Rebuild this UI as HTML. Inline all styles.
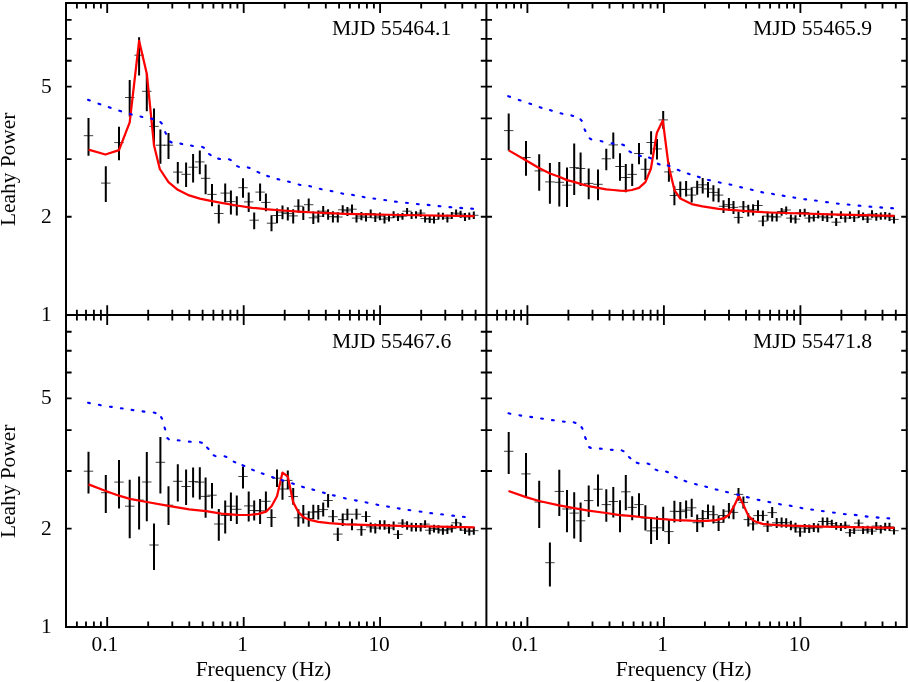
<!DOCTYPE html>
<html><head><meta charset="utf-8"><title>Leahy Power spectra</title>
<style>
html,body{margin:0;padding:0;background:#fff;}
body{width:909px;height:682px;overflow:hidden;font-family:"Liberation Serif",serif;}
svg{display:block;}
</style></head><body>
<svg width="909" height="682" viewBox="0 0 909 682">
<rect width="909" height="682" fill="#fff"/>
<path d="M76.9 3v5.4M76.9 309.8v10.8M76.9 627v-5.4M86 3v5.4M86 309.8v10.8M86 627v-5.4M93.9 3v5.4M93.9 309.8v10.8M93.9 627v-5.4M100.9 3v5.4M100.9 309.8v10.8M100.9 627v-5.4M107.2 3v9.9M107.2 305.2v19.8M107.2 627v-9.9M148.2 3v5.4M148.2 309.8v10.8M148.2 627v-5.4M172.3 3v5.4M172.3 309.8v10.8M172.3 627v-5.4M189.3 3v5.4M189.3 309.8v10.8M189.3 627v-5.4M202.6 3v5.4M202.6 309.8v10.8M202.6 627v-5.4M213.4 3v5.4M213.4 309.8v10.8M213.4 627v-5.4M222.5 3v5.4M222.5 309.8v10.8M222.5 627v-5.4M230.4 3v5.4M230.4 309.8v10.8M230.4 627v-5.4M237.4 3v5.4M237.4 309.8v10.8M237.4 627v-5.4M243.7 3v9.9M243.7 305.2v19.8M243.7 627v-9.9M284.7 3v5.4M284.7 309.8v10.8M284.7 627v-5.4M308.8 3v5.4M308.8 309.8v10.8M308.8 627v-5.4M325.8 3v5.4M325.8 309.8v10.8M325.8 627v-5.4M339.1 3v5.4M339.1 309.8v10.8M339.1 627v-5.4M349.9 3v5.4M349.9 309.8v10.8M349.9 627v-5.4M359 3v5.4M359 309.8v10.8M359 627v-5.4M366.9 3v5.4M366.9 309.8v10.8M366.9 627v-5.4M373.9 3v5.4M373.9 309.8v10.8M373.9 627v-5.4M380.1 3v9.9M380.1 305.2v19.8M380.1 627v-9.9M421.2 3v5.4M421.2 309.8v10.8M421.2 627v-5.4M445.3 3v5.4M445.3 309.8v10.8M445.3 627v-5.4M462.3 3v5.4M462.3 309.8v10.8M462.3 627v-5.4M475.6 3v5.4M475.6 309.8v10.8M475.6 627v-5.4M497.1 3v5.4M497.1 309.8v10.8M497.1 627v-5.4M506.2 3v5.4M506.2 309.8v10.8M506.2 627v-5.4M514.1 3v5.4M514.1 309.8v10.8M514.1 627v-5.4M521.1 3v5.4M521.1 309.8v10.8M521.1 627v-5.4M527.4 3v9.9M527.4 305.2v19.8M527.4 627v-9.9M568.4 3v5.4M568.4 309.8v10.8M568.4 627v-5.4M592.5 3v5.4M592.5 309.8v10.8M592.5 627v-5.4M609.5 3v5.4M609.5 309.8v10.8M609.5 627v-5.4M622.8 3v5.4M622.8 309.8v10.8M622.8 627v-5.4M633.6 3v5.4M633.6 309.8v10.8M633.6 627v-5.4M642.7 3v5.4M642.7 309.8v10.8M642.7 627v-5.4M650.6 3v5.4M650.6 309.8v10.8M650.6 627v-5.4M657.6 3v5.4M657.6 309.8v10.8M657.6 627v-5.4M663.9 3v9.9M663.9 305.2v19.8M663.9 627v-9.9M704.9 3v5.4M704.9 309.8v10.8M704.9 627v-5.4M729 3v5.4M729 309.8v10.8M729 627v-5.4M746 3v5.4M746 309.8v10.8M746 627v-5.4M759.3 3v5.4M759.3 309.8v10.8M759.3 627v-5.4M770.1 3v5.4M770.1 309.8v10.8M770.1 627v-5.4M779.2 3v5.4M779.2 309.8v10.8M779.2 627v-5.4M787.1 3v5.4M787.1 309.8v10.8M787.1 627v-5.4M794.1 3v5.4M794.1 309.8v10.8M794.1 627v-5.4M800.4 3v9.9M800.4 305.2v19.8M800.4 627v-9.9M841.4 3v5.4M841.4 309.8v10.8M841.4 627v-5.4M865.5 3v5.4M865.5 309.8v10.8M865.5 627v-5.4M882.5 3v5.4M882.5 309.8v10.8M882.5 627v-5.4M895.8 3v5.4M895.8 309.8v10.8M895.8 627v-5.4M66 216.7h5.6M480.8 216.7h11.2M906.8 216.7h-5.6M66 159.1h5.6M480.8 159.1h11.2M906.8 159.1h-5.6M66 118.3h5.6M480.8 118.3h11.2M906.8 118.3h-5.6M66 86.6h5.6M480.8 86.6h11.2M906.8 86.6h-5.6M66 60.7h5.6M480.8 60.7h11.2M906.8 60.7h-5.6M66 38.8h5.6M480.8 38.8h11.2M906.8 38.8h-5.6M66 19.8h5.6M480.8 19.8h11.2M906.8 19.8h-5.6M66 528.6h5.6M480.8 528.6h11.2M906.8 528.6h-5.6M66 471h5.6M480.8 471h11.2M906.8 471h-5.6M66 430.1h5.6M480.8 430.1h11.2M906.8 430.1h-5.6M66 398.4h5.6M480.8 398.4h11.2M906.8 398.4h-5.6M66 372.5h5.6M480.8 372.5h11.2M906.8 372.5h-5.6M66 350.7h5.6M480.8 350.7h11.2M906.8 350.7h-5.6M66 331.7h5.6M480.8 331.7h11.2M906.8 331.7h-5.6" stroke="#000" stroke-width="1.85" fill="none"/>
<path d="M66 3H906.8V627H66ZM486.4 3V627M66 315.1H906.8" stroke="#000" stroke-width="2.0" fill="none" stroke-linejoin="miter"/>
<path d="M88.5 117.9V155.8M105.8 166.3V201.9M119 126.7V160.2M129.7 79.9V116.5M139.1 37.3V75.5M146.8 73.7V111.2M154 108.6V145.2M160.4 129.4V163.7M168.5 132.9V158.9M177.8 161.9V183.6M186.1 162.5V187.1M193.1 154V182.5M199.8 150.5V174.3M205.6 164.6V194.2M212 183.9V206.2M218.8 204.5V223.6M225.2 183.5V202.4M230.9 190.4V214.4M236.8 196.2V215.5M243 178.2V197.8M248.7 192.4V211.9M254.2 212.4V229.3M260.1 183.4V201.1M265.9 193.6V211.3M271.5 215.2V231.3M277 208.5V223.2M282.5 205.5V219.3M287.8 207.3V220.4M293.2 209.3V223.6M298.4 199.3V212.4M303.3 206.5V220.1M308.7 198.5V211.2M313.3 211.6V223.9M318.3 210.5V222.4M323.2 205.9V217M328.1 209.3V219.8M332.9 211.2V222.4M337.8 212.3V222.4M342.7 205.2V214.5M347.4 207V216.1M352 204.6V213.1M356.5 214.5V222.4M361.4 212V220.2M366 213.1V221.4M370.7 209.5V217.8M375.3 213.6V221.9M379.9 212.5V220.2M384.5 215.3V223.5M389 214.5V221.4M393.6 211.2V218.1M398 213.6V221.1M402.5 213.1V219.7M407.1 207.9V215.3M411.6 212V219.1M416 211.2V218.6M420.7 209.5V216.9M425.1 215.3V222.4M429.7 215.8V223M434 216.1V223.5M438.5 212.5V219.4M442.9 212.8V219.7M447.4 214.8V222.4M451.8 212V219.1M456.1 209.5V216.9M460.6 210.8V217.8M465 213.1V221.1M469.3 212.5V219.7M473.8 211.5V219.1" stroke="#000" stroke-width="2.0" fill="none"/><path d="M83.8 135.7h9.4M101.1 183.1h9.4M114.3 142.6h9.4M125 97.5h9.4M134.4 55.2h9.4M142.1 91.3h9.4M149.3 126.4h9.4M155.7 145.2h9.4M163.8 145.2h9.4M173.1 172.1h9.4M181.4 174.3h9.4M188.4 167.2h9.4M195.1 161.9h9.4M200.9 178.3h9.4M207.3 194.4h9.4M214.1 213.5h9.4M220.5 193.1h9.4M226.2 201.6h9.4M232.1 205.8h9.4M238.3 187.7h9.4M244 201.9h9.4M249.5 220.2h9.4M255.4 192.1h9.4M261.2 202.4h9.4M266.8 223.2h9.4M272.3 215.5h9.4M277.8 212.1h9.4M283.1 213.6h9.4M288.5 215.9h9.4M293.7 206.2h9.4M298.6 212.4h9.4M304 204.7h9.4M308.6 217.8h9.4M313.6 216.2h9.4M318.5 211.2h9.4M323.4 213.9h9.4M328.2 216.7h9.4M333.1 217h9.4M338 209.8h9.4M342.7 210.8h9.4M347.3 209.2h9.4M351.8 218.1h9.4M356.7 216.1h9.4M361.3 217.3h9.4M366 213.6h9.4M370.6 217.8h9.4M375.2 216.1h9.4M379.8 219.1h9.4M384.3 217.8h9.4M388.9 214.5h9.4M393.3 216.9h9.4M397.8 216.1h9.4M402.4 211.2h9.4M406.9 215.3h9.4M411.3 214.5h9.4M416 213.1h9.4M420.4 218.6h9.4M425 219.1h9.4M429.3 219.4h9.4M433.8 215.8h9.4M438.2 216.1h9.4M442.7 218.1h9.4M447.1 215.3h9.4M451.4 213.1h9.4M455.9 214.1h9.4M460.3 216.9h9.4M464.6 216.1h9.4M469.1 215.3h9.4" stroke="#000" stroke-width="0.75" fill="none"/>
<polyline points="88.5,149.6 105.4,154.5 119,150.1 129.7,122.3 139.1,40.8 146.8,73.7 154,145.2 159.8,169 168.5,182.2 177.8,189.8 189.2,195.4 199.8,198.6 212,201.2 221.4,202.8 236.8,205.5 252.2,207.8 267.6,209.3 283,210.5 298.4,211.6 313.8,212.5 329.2,213.2 346,213.9 400,215 474.6,216.1" stroke="#ff0000" stroke-width="2.25" fill="none" stroke-linejoin="round" stroke-linecap="butt"/>
<path d="M88 99.8L89.8 100.4M98.5 103.7L100.3 104.3M108.8 107.2L110.6 107.8M119.3 110.7L121.1 111.3M129.9 114L131.7 114.4M140.5 116.5L142.3 116.9M151 118.5L152.8 119.1M160.4 122L161.8 123.4M165.2 132.1L166 133.7M170 141.5L171.6 142.5M180.4 143.6L182.2 144M191 145.5L192.8 145.9M202.1 146.9L203.9 147.7M209.1 154L210.7 155.2M218.2 158.6L220 159M229 159.3L230.8 160.1M237.1 166.1L238.9 166.9M247.8 167.4L249.6 168M257.5 171.9L259.3 172.7M267.2 175.9L269 176.5M277.5 179.1L279.3 179.5M288 181.5L289.8 181.9M298.6 184.5L300.4 184.9M309.2 186L311 186.4M319.8 188.8L321.6 189.2M330.6 190.9L332.4 191.3M341.3 193.3L343.1 193.7M352.1 194.8L353.9 195.2M362.7 196.8L364.5 197.2M373.4 198.5L375.2 198.7M384.3 200L386.1 200.2M395 201.6L396.8 201.8M406.1 202.8L407.9 203M416.9 204L418.7 204.2M427.7 204.9L429.5 205.1M438.6 206.1L440.4 206.3M449.5 207.1L451.3 207.3M460.3 207.9L462.1 208.1M471.2 208.6L473 208.8" stroke="#0000ff" stroke-width="2.1" stroke-linecap="round" fill="none"/>
<path d="M508.7 113.5V150.4M526 141V175.7M539.2 154.2V190.7M549.9 163V203.7M559.3 161.9V206.5M567 167.4V207M574.2 143.4V195.1M580.6 152.6V186.1M588.7 168.5V199.3M598 169.6V200.2M606.3 148.7V170.2M613.3 132.4V158.8M620 153.3V180.8M625.8 164.1V192.2M632.2 163.8V186M639 143.1V164.3M645.4 158.6V180M651.1 131.2V154.4M657 139V159.5M663.2 110.9V128.7M668.9 162.6V181.7M674.4 186.2V205.3M680.3 181.5V198.5M686.1 181.1V196.5M691.7 187.3V202.6M697.2 180.7V194.8M702.7 178V193.4M708 182.1V197.5M713.4 185.2V201.6M718.6 188.3V202.2M723.5 200.2V212.9M728.9 198.1V210.9M733.5 201V213.9M738.5 211.5V223.6M743.4 201V212.9M748.3 204.7V216.4M753.1 204.3V215.4M758 200.3V210.8M762.9 215.8V226.2M767.6 211.7V220.8M772.2 212.8V221.4M776.7 212.8V221.4M781.6 207.9V215.8M786.2 206.5V214.5M790.9 214.5V222.7M795.5 215.3V223.5M800.1 209.2V216.9M804.7 208.7V216.4M809.2 214.5V222.4M813.8 213.6V221.4M818.2 210.8V218.6M822.7 213.1V221.1M827.3 213.6V221.9M831.8 210.8V218.1M836.2 218.1V226M840.9 211.2V219.1M845.3 214.5V222.4M849.9 211.5V219.1M854.2 214.1V221.9M858.7 210.3V218.1M863.1 212.5V220.2M867.6 215.3V223M872 210.3V217.8M876.3 213.1V220.7M880.8 212.5V219.7M885.2 212V219.4M889.5 212.8V221.1M894 215.3V223.5" stroke="#000" stroke-width="2.0" fill="none"/><path d="M504 130.6h9.4M521.3 157.5h9.4M534.5 170.9h9.4M545.2 181.9h9.4M554.6 182.3h9.4M562.3 185.2h9.4M569.5 167.6h9.4M575.9 168.5h9.4M584 183.4h9.4M593.3 184.3h9.4M601.6 158.8h9.4M608.6 144.9h9.4M615.3 166.5h9.4M621.1 177.5h9.4M627.5 174.4h9.4M634.3 153.5h9.4M640.7 169.3h9.4M646.4 142.5h9.4M652.3 148.9h9.4M658.5 119.9h9.4M664.2 171.9h9.4M669.7 195.5h9.4M675.6 189.5h9.4M681.4 189.3h9.4M687 195.1h9.4M692.5 187.3h9.4M698 184.8h9.4M703.3 188.9h9.4M708.7 192.4h9.4M713.9 195.1h9.4M718.8 206.3h9.4M724.2 204.7h9.4M728.8 207.4h9.4M733.8 217.4h9.4M738.7 206.8h9.4M743.6 210.5h9.4M748.4 209.8h9.4M753.3 205.5h9.4M758.2 221.1h9.4M762.9 216.1h9.4M767.5 216.9h9.4M772 216.9h9.4M776.9 211.5h9.4M781.5 210h9.4M786.2 218.1h9.4M790.8 219.1h9.4M795.4 212.8h9.4M800 212.5h9.4M804.5 218.1h9.4M809.1 217.4h9.4M813.5 214.5h9.4M818 216.9h9.4M822.6 217.8h9.4M827.1 214.5h9.4M831.5 222.2h9.4M836.2 215.3h9.4M840.6 218.1h9.4M845.2 215.3h9.4M849.5 217.8h9.4M854 214.5h9.4M858.4 216.4h9.4M862.9 219.1h9.4M867.3 214.1h9.4M871.6 216.9h9.4M876.1 216.1h9.4M880.5 215.8h9.4M884.8 216.9h9.4M889.3 219.4h9.4" stroke="#000" stroke-width="0.75" fill="none"/>
<polyline points="508.7,150.4 525.8,160.3 539,168 550,173.5 559.1,176.8 567,180.1 574,181.9 580.4,183.9 588.6,186.1 598,187.8 606.2,189.4 613.2,190 619.8,190.7 625.5,190.9 631.9,190 639,187.9 645.4,182.1 650.9,168.8 656.9,132.8 662.8,120.5 668.6,165.7 674.5,190.3 680.3,198.5 691.6,204.1 702.5,206.3 718.5,208.8 733.7,210.2 753.2,211.7 770,212.5 830,214.3 894.6,215.8" stroke="#ff0000" stroke-width="2.25" fill="none" stroke-linejoin="round" stroke-linecap="butt"/>
<path d="M508.2 96.2L510 96.8M518.8 99.9L520.6 100.5M529.3 103.5L531.1 104.1M539.7 107.2L541.5 107.8M550 110.1L551.8 110.7M560.6 113.3L562.4 113.7M571.4 115.4L573.2 116M580.5 119.4L581.7 120.8M584.6 129.4L585.4 131M589.7 138.3L591.3 139.3M600.6 141L602.4 141.4M611.6 143.2L613.4 143.6M622.2 144.5L624 145.3M629.5 151.3L631.1 152.3M639 155.5L640.8 156.1M649 157.5L650.8 158.3M657.8 163.7L659.6 164.5M667.7 165.4L669.5 166M677.8 169.8L679.6 170.6M687.8 173.6L689.6 174.2M697.9 176.7L699.7 177.3M708.1 179.9L709.9 180.3M718.8 182.3L720.6 182.7M729.5 184.4L731.3 184.8M740.2 187.1L742 187.5M750.8 189.5L752.6 189.9M761.3 192.1L763.1 192.5M772.1 193.8L773.9 194.2M782.7 195.6L784.5 196M793.4 197.4L795.2 197.8M804.3 199.2L806.1 199.4M815 200.5L816.8 200.7M826.1 202.1L827.9 202.3M836.9 203.5L838.7 203.7M847.7 204.5L849.5 204.7M858.6 205.6L860.4 205.8M869.5 206.6L871.3 206.8M880.3 207.4L882.1 207.6M891.2 208.1L893 208.3" stroke="#0000ff" stroke-width="2.1" stroke-linecap="round" fill="none"/>
<path d="M88.5 451.7V493.6M105.8 475.1V513M119 460.1V508.6M129.7 479.8V538.2M139.1 476.6V529.5M146.8 451.9V521.2M154 523.6V569.9M160.4 436.9V493.6M168.5 486.2V525.1M177.8 464.2V501.5M186.1 469.5V505M193.1 467.5V497.6M199.8 467.2V499.4M205.6 477.5V517.8M212 483V508.5M218.8 509.1V540.8M225.2 500.5V533.5M230.9 492.4V520.9M236.8 495.4V523.9M243 466.5V488.5M248.7 491.6V521.6M254.2 500.4V520.4M260.1 499V523.9M265.9 491.6V511.2M271.5 509.3V527M277 469.6V487M282.5 479.7V499.8M287.8 470.5V489.6M293.2 488.1V504.7M298.4 509.3V526.7M303.3 505.1V523.5M308.7 511.3V526.7M313.3 504.7V519.3M318.3 505.1V519.6M323.2 502.4V516.5M328.1 493.9V507.5M332.9 510.1V522.4M337.8 527.8V541M342.7 513.6V526.1M347.4 508.8V520.3M352 518.7V530.2M356.5 508.8V519.5M361.4 525.3V535.7M366 511.3V522M370.7 522.5V532.4M375.3 523.6V533.5M379.9 520.3V529.4M384.5 520.3V529.7M389 524.1V533.5M393.6 521.5V530.2M398 530.2V539M402.5 519.2V527.8M407.1 521.2V529.7M411.6 522.8V531.4M416 523.1V531.4M420.7 523.1V531.4M425.1 520.3V528.1M429.7 526.4V534.4M434 524.8V532.4M438.5 525.3V533.5M442.9 526.9V534.7M447.4 525.8V534M451.8 524.5V532.4M456.1 518.7V526.9M460.6 523.1V530.7M465 526.4V534M469.3 527.8V535.5M473.8 526.9V534.7" stroke="#000" stroke-width="2.0" fill="none"/><path d="M83.8 471.2h9.4M101.1 492.7h9.4M114.3 482.1h9.4M125 506.2h9.4M134.4 500.1h9.4M142.1 482h9.4M149.3 545h9.4M155.7 462.3h9.4M163.8 505.2h9.4M173.1 481.3h9.4M181.4 486.5h9.4M188.4 481.6h9.4M195.1 482.1h9.4M200.9 496.4h9.4M207.3 495.2h9.4M214.1 524h9.4M220.5 515.5h9.4M226.2 506.2h9.4M232.1 509.3h9.4M238.3 476.5h9.4M244 505.9h9.4M249.5 510.5h9.4M255.4 510.8h9.4M261.2 501.3h9.4M266.8 517.5h9.4M272.3 478.2h9.4M277.8 489h9.4M283.1 480.4h9.4M288.5 496.5h9.4M293.7 517.8h9.4M298.6 514.2h9.4M304 518.5h9.4M308.6 512.1h9.4M313.6 511.6h9.4M318.5 509.6h9.4M323.4 500.5h9.4M328.2 516.7h9.4M333.1 534.1h9.4M338 519.6h9.4M342.7 514.2h9.4M347.3 524.1h9.4M351.8 514.2h9.4M356.7 529.7h9.4M361.3 516.5h9.4M366 526.9h9.4M370.6 528.1h9.4M375.2 524.5h9.4M379.8 524.8h9.4M384.3 528.1h9.4M388.9 525.6h9.4M393.3 534.4h9.4M397.8 523.1h9.4M402.4 525.3h9.4M406.9 526.9h9.4M411.3 526.9h9.4M416 526.9h9.4M420.4 524.1h9.4M425 530.2h9.4M429.3 528.6h9.4M433.8 529.4h9.4M438.2 530.7h9.4M442.7 529.7h9.4M447.1 528.6h9.4M451.4 522.8h9.4M455.9 526.9h9.4M460.3 530.2h9.4M464.6 531.4h9.4M469.1 530.7h9.4" stroke="#000" stroke-width="0.75" fill="none"/>
<polyline points="88.5,484.4 105.8,491 119,495.7 129.9,498.9 146.8,502 168.5,505.9 189.2,509.4 206,511.2 221.4,513.6 236.8,514.8 249.1,515 258.4,513.9 266.1,511.6 271.5,506.2 277,496.2 282.5,472.6 287.8,476.5 293.2,502.4 298.4,512.1 303.3,517 308.7,519.6 318.3,521.8 329.2,523.2 346,524.4 400,525.8 474.6,527.3" stroke="#ff0000" stroke-width="2.25" fill="none" stroke-linejoin="round" stroke-linecap="butt"/>
<path d="M88 402.7L89.8 403.1M98.9 404.8L100.7 405.2M110 406.7L111.8 406.9M120.9 408.3L122.7 408.5M131.6 409.9L133.4 410.1M142.6 411.4L144.4 411.6M153.7 412.5L155.5 413.1M161.1 417.1L162.1 418.7M164.6 427.6L165.2 429.4M167.4 438.1L168.8 439.3M177.8 440.3L179.6 440.5M188.9 441.6L190.7 441.8M200 442.2L201.8 442.8M207.1 447.5L208.5 448.9M213.7 455.3L215.5 456.1M224.6 456.3L226.4 456.9M233.7 461.6L235.3 462.4M242.5 465.2L244.3 466M252.1 469.6L253.9 470.4M261.8 473.3L263.6 473.9M272.1 477.1L273.9 477.7M281.6 480.1L283.4 480.7M292.1 483.3L293.9 483.9M302.1 486.7L303.9 487.3M312.4 489.4L314.2 490M322.9 492.5L324.7 493.1M332.9 495.2L334.7 495.6M343.9 498L345.7 498.4M354.9 500.2L356.7 500.6M365.6 502.3L367.4 502.7M376.4 504.5L378.2 504.9M387.1 506.4L388.9 506.8M397.8 508.2L399.6 508.6M408.5 510L410.3 510.2M419.6 511.5L421.4 511.7M430.3 513.1L432.1 513.3M441.2 514.3L443 514.5M452.3 515.6L454.1 515.8M463 516.8L464.8 517" stroke="#0000ff" stroke-width="2.1" stroke-linecap="round" fill="none"/>
<path d="M508.7 432V473.9M526 453.1V498M539.2 480.7V527.9M549.9 542.5V586.5M559.3 469.8V516.1M567 490V532.3M574.2 492.3V538.6M580.6 502.4V542.1M588.7 485.6V517M598 474.6V506.4M606.3 489.2V521.7M613.3 487V517.5M620 500.2V532.3M625.8 475.1V510.3M632.2 496.2V520.3M639 493.2V516M645.4 505.3V530.5M651.1 518.5V544M657 516.2V540.1M663.2 506.7V530.9M668.9 519.3V544M674.4 500.8V522.4M680.3 502.1V521.9M686.1 500.5V518.5M691.7 498.8V517M697.2 514.4V532.1M702.7 510.1V527.3M708 504.4V519.3M713.4 505.5V523.6M718.6 515.5V530.9M723.5 509.3V522.7M728.9 503.1V518.5M733.5 505.5V519.3M738.5 488.1V500.8M743.4 496.5V508.5M748.3 513.2V526.6M753.1 517.8V530.4M758 510.2V521.4M762.9 510.4V521M767.6 520.8V531.9M772.2 507.1V517.9M776.7 517.9V528.1M781.6 517.5V527.4M786.2 518.2V527.8M790.9 520.8V530.2M795.5 522.8V532.4M800.1 527.4V536.8M804.7 524.1V532.7M809.2 524.5V533M813.8 523.1V531.9M818.2 523.6V532.4M822.7 517.5V525.8M827.3 517.5V525.8M831.8 519.8V527.8M836.2 522V529.7M840.9 523.1V531.1M845.3 521.5V529.1M849.9 529.1V536.8M854.2 526.4V534M858.7 519.5V526.9M863.1 526.1V534M867.6 525.8V533.5M872 526.9V534.7M876.3 522V529.7M880.8 525.3V533.5M885.2 522.8V530.7M889.5 522.8V531.1M894 526.9V534.4" stroke="#000" stroke-width="2.0" fill="none"/><path d="M504 451.3h9.4M521.3 473.9h9.4M534.5 502h9.4M545.2 562.7h9.4M554.6 491.4h9.4M562.3 509h9.4M569.5 513.1h9.4M575.9 520.8h9.4M584 500.6h9.4M593.3 489.2h9.4M601.6 504.6h9.4M608.6 501.5h9.4M615.3 515h9.4M621.1 491.8h9.4M627.5 507.4h9.4M634.3 504.6h9.4M640.7 518h9.4M646.4 530.9h9.4M652.3 527.8h9.4M658.5 519h9.4M664.2 531.6h9.4M669.7 511.3h9.4M675.6 511.6h9.4M681.4 510.1h9.4M687 507.8h9.4M692.5 522.7h9.4M698 518.5h9.4M703.3 511.6h9.4M708.7 514.7h9.4M713.9 522.4h9.4M718.8 515.5h9.4M724.2 511.2h9.4M728.8 512.4h9.4M733.8 494.4h9.4M738.7 502.4h9.4M743.6 519.6h9.4M748.4 523.9h9.4M753.3 515.6h9.4M758.2 515.4h9.4M762.9 526.1h9.4M767.5 512.6h9.4M772 522.8h9.4M776.9 522.5h9.4M781.5 522.8h9.4M786.2 525.3h9.4M790.8 527.8h9.4M795.4 531.9h9.4M800 528.1h9.4M804.5 528.6h9.4M809.1 527.4h9.4M813.5 527.8h9.4M818 521.5h9.4M822.6 521.5h9.4M827.1 523.6h9.4M831.5 525.8h9.4M836.2 526.9h9.4M840.6 525.3h9.4M845.2 532.7h9.4M849.5 530.2h9.4M854 523.1h9.4M858.4 530.2h9.4M862.9 529.7h9.4M867.3 531.1h9.4M871.6 526.1h9.4M876.1 529.4h9.4M880.5 526.9h9.4M884.8 526.9h9.4M889.3 530.7h9.4" stroke="#000" stroke-width="0.75" fill="none"/>
<polyline points="508.5,491 526,497.1 539.2,501 559.1,505.4 574,508.2 588.5,510.7 606.2,513 619.8,515.2 630,515.8 645.4,517.5 660.8,519 676.2,520.1 691.6,520.7 707,520.9 716.2,520.2 723.9,518.2 729,514.7 734,506.2 738.9,495.8 744,506.2 748.4,515.9 753.2,520.4 757,522.2 762.6,523.8 770,524.7 780.8,525.3 822,526.6 894.6,527.8" stroke="#ff0000" stroke-width="2.25" fill="none" stroke-linejoin="round" stroke-linecap="butt"/>
<path d="M508.5 413.3L510.3 413.7M519.4 415.2L521.2 415.6M530.3 416.9L532.1 417.1M541.1 418.5L542.9 418.7M552 420.1L553.8 420.3M562.9 421.5L564.7 421.7M573.7 422.3L575.5 422.9M581.5 427.1L582.5 428.7M585.1 437.2L585.9 439M589.1 447L590.7 448M599.9 448.6L601.7 448.8M610.8 449.7L612.6 449.9M621.7 450.4L623.5 451.2M629 457L630.4 458.2M636.7 462.7L638.5 463.3M647.6 463.6L649.4 464.2M655.6 469.6L657.4 470.4M666.1 471.6L667.9 472.2M675.1 476.9L676.7 477.7M684.5 480.8L686.3 481.4M695 484L696.8 484.4M705.2 486.5L707 486.9M715.7 489.4L717.5 489.8M726.1 491.9L727.9 492.3M736.9 494.5L738.7 494.9M746.9 497.1L748.7 497.5M757.6 499.7L759.4 500.1M768.4 501.9L770.2 502.3M779 504L780.8 504.4M789.8 505.6L791.6 506M800.5 507.8L802.3 508.2M811.2 509.5L813 509.7M821.9 511L823.7 511.2M833 512.5L834.8 512.7M843.9 514L845.7 514.2M854.8 514.9L856.6 515.1M865.7 516.4L867.5 516.6M876.7 517.4L878.5 517.6M887.4 518.2L889.2 518.4" stroke="#0000ff" stroke-width="2.1" stroke-linecap="round" fill="none"/>
<g style="opacity:0.999" font-family="'Liberation Serif', serif" fill="#000">
<text x="51.6" y="92.5" font-size="21.4" text-anchor="end">5</text>
<text x="51.6" y="222.6" font-size="21.4" text-anchor="end">2</text>
<text x="51.6" y="321.2" font-size="21.4" text-anchor="end">1</text>
<text x="51.6" y="404.3" font-size="21.4" text-anchor="end">5</text>
<text x="51.6" y="534.5" font-size="21.4" text-anchor="end">2</text>
<text x="51.6" y="633.1" font-size="21.4" text-anchor="end">1</text>
<text x="104.9" y="651.2" font-size="21.4" text-anchor="middle">0.1</text>
<text x="242.5" y="651.2" font-size="21.4" text-anchor="middle">1</text>
<text x="379.1" y="651.2" font-size="21.4" text-anchor="middle">10</text>
<text x="263.4" y="676.0" font-size="21.5" text-anchor="middle">Frequency (Hz)</text>
<text x="525.1" y="651.2" font-size="21.4" text-anchor="middle">0.1</text>
<text x="662.6" y="651.2" font-size="21.4" text-anchor="middle">1</text>
<text x="799.4" y="651.2" font-size="21.4" text-anchor="middle">10</text>
<text x="683.6" y="676.0" font-size="21.5" text-anchor="middle">Frequency (Hz)</text>
<text x="332" y="35.2" font-size="21.7">MJD 55464.1</text>
<text x="752.9" y="35.2" font-size="21.7">MJD 55465.9</text>
<text x="332" y="347.6" font-size="21.7">MJD 55467.6</text>
<text x="752.9" y="347.6" font-size="21.7">MJD 55471.8</text>
<text transform="translate(14.6 169.4) rotate(-90)" font-size="21.4" text-anchor="middle">Leahy Power</text>
<text transform="translate(14.6 481.4) rotate(-90)" font-size="21.4" text-anchor="middle">Leahy Power</text>
</g>
</svg>
</body></html>
